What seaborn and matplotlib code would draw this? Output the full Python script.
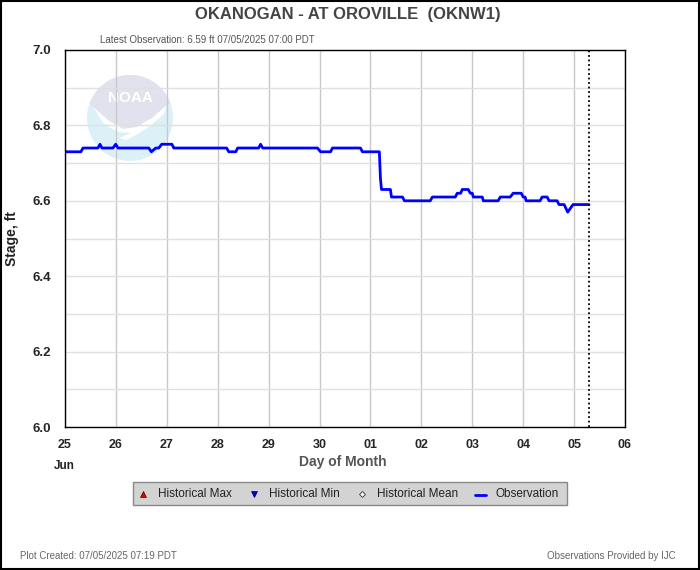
import numpy as np
import pandas as pd
import matplotlib
matplotlib.use("Agg")
import matplotlib.pyplot as plt
import matplotlib.dates as mdates
import matplotlib.transforms as mtransforms
from matplotlib.patches import Circle, Polygon, Rectangle
from matplotlib.lines import Line2D
import seaborn as sns

# ---- data (hours after 2025-06-25 00:00 PDT, stage in ft) ----
obs_hours = [0, 7.5, 8.5, 15.5, 16.5, 17.4, 22.6, 23.9, 25, 39.5, 40.7, 42.8, 44.2, 45.6,
             50.4, 51.3, 76.2, 77.2, 80.5, 81.4, 91.3, 92.2, 93.2, 119, 120.5, 125.2,
             126.1, 139.3, 140.2, 148.2, 148.7, 149.2, 153.4, 153.9, 159.1, 160.0,
             172.2, 173.2, 184.0, 184.9, 186.5, 187.3, 190.1, 191.1, 192.0, 192.5,
             196.7, 197.2, 204.2, 205.2, 209.9, 211.3, 215.1, 216.0, 216.9, 217.4,
             224.0, 224.9, 227.3, 228.2, 232.0, 232.9, 235.3, 237.0, 239.5, 247.0]
obs_stage = [6.73, 6.73, 6.74, 6.74, 6.75, 6.74, 6.74, 6.75, 6.74, 6.74, 6.73, 6.74, 6.74, 6.75,
             6.75, 6.74, 6.74, 6.73, 6.73, 6.74, 6.74, 6.75, 6.74, 6.74, 6.73, 6.73,
             6.74, 6.74, 6.73, 6.73, 6.66, 6.63, 6.63, 6.61, 6.61, 6.60,
             6.60, 6.61, 6.61, 6.62, 6.62, 6.63, 6.63, 6.62, 6.62, 6.61,
             6.61, 6.60, 6.60, 6.61, 6.61, 6.62, 6.62, 6.61, 6.61, 6.60,
             6.60, 6.61, 6.61, 6.60, 6.60, 6.59, 6.59, 6.57, 6.59, 6.59]
day_labels = ["25", "26", "27", "28", "29", "30", "01", "02", "03", "04", "05", "06"]
y_ticks = [6.0, 6.2, 6.4, 6.6, 6.8, 7.0]
legend_labels = ["Historical Max", "Historical Min", "Historical Mean", "Observation"]

start = pd.Timestamp("2025-06-25 00:00")
latest = pd.Timestamp("2025-07-05 07:00")
df = pd.DataFrame({"time": start + pd.to_timedelta(obs_hours, unit="h"), "stage": obs_stage})

sns.set_style("white")
plt.rcParams["font.family"] = ["Liberation Sans", "DejaVu Sans"]

W, H = 700, 570
fig = plt.figure(figsize=(W/100, H/100), dpi=100)
ax = fig.add_axes([65/W, 1-427/H, 560/W, 377/H])
# pixel transform: x from left, y from top
pix = mtransforms.Affine2D().scale(1/W, -1/H).translate(0, 1) + fig.transFigure

# faint NOAA watermark (below grid)
cx, cy, r = 130, 118, 43
ax.add_patch(Circle((cx, cy), r, transform=pix, facecolor="#dcf0f8", edgecolor="none",
                    zorder=0.1, clip_on=False))
ang = np.linspace(np.radians(200), np.radians(340), 40)
arc = [(cx + r*np.cos(a), cy + r*np.sin(a)) for a in ang]
lav = arc + [(166, 106), (152, 118), (137, 127), (123, 129), (109, 121), (93, 107)]
ax.add_patch(Polygon(lav, closed=True, transform=pix, facecolor="#e2e2ef", edgecolor="none",
                     zorder=0.15, clip_on=False))
bird = [(93, 107), (109, 121), (123, 129), (137, 127), (152, 118), (166, 106),
        (164, 114), (150, 126), (138, 134), (126, 140), (119, 138), (131, 133),
        (118, 132), (104, 124)]
ax.add_patch(Polygon(bird, closed=True, transform=pix, facecolor="white", edgecolor="none",
                     zorder=0.16, clip_on=False))
ax.text(130, 98, "NOAA", transform=pix, ha="center", va="center", fontsize=11,
        fontweight="bold", color="white", zorder=0.2)

sns.lineplot(data=df, x="time", y="stage", ax=ax, color="#0000ff", linewidth=2, zorder=3)
ax.axvline(latest, color="black", linestyle=(0, (1, 1.5)), linewidth=1.3, zorder=4)

ax.set_xlim(start, start + pd.Timedelta(days=11))
ax.set_ylim(6.0, 7.0)
ax.set_yticks(y_ticks)
ax.set_yticklabels([f"{v:.1f}" for v in y_ticks], fontweight="bold", fontsize=9.5)
ax.set_yticks(np.arange(6.1, 7.0, 0.2), minor=True)
xt = [start + pd.Timedelta(days=i) for i in range(len(day_labels))]
ax.set_xticks(xt)
ax.set_xticklabels(day_labels, fontweight="bold", fontsize=9)
ax.tick_params(axis="both", which="both", length=0)
ax.tick_params(axis="x", pad=9)
ax.tick_params(axis="y", pad=10)
ax.grid(axis="x", which="major", color="#c8c8c8", linewidth=1)
ax.grid(axis="y", which="both", color="#e0e0e0", linewidth=1)
ax.set_axisbelow(True)
ax.patch.set_alpha(0)
for s in ax.spines.values():
    s.set_color("black")
    s.set_linewidth(1)
    s.set_zorder(5)
ax.set_xlabel("")
ax.set_ylabel("")

fig.text(348/W, 1-14/H, "OKANOGAN - AT OROVILLE  (OKNW1)", ha="center", va="center",
         fontsize=12, fontweight="bold", color="#444444")
fig.text(100/W, 1-40/H, "Latest Observation: 6.59 ft 07/05/2025 07:00 PDT", ha="left",
         va="center", fontsize=7, color="#555555")
fig.text(12/W, 1-239/H, "Stage, ft", rotation=90, ha="center", va="center",
         fontsize=10, fontweight="bold", color="#222222")
fig.text(343/W, 1-462/H, "Day of Month", ha="center", va="center",
         fontsize=10, fontweight="bold", color="#555555")
fig.text(64/W, 1-466/H, "Jun", ha="center", va="center", fontsize=8.5,
         fontweight="bold", color="#222222")
fig.text(20/W, 1-556/H, "Plot Created: 07/05/2025 07:19 PDT", ha="left", va="center",
         fontsize=7, color="#666666")
fig.text(676/W, 1-556/H, "Observations Provided by IJC", ha="right", va="center",
         fontsize=7, color="#666666")

# legend box
fig.patches.append(Rectangle((133, 505), 434, -23, transform=pix,
                             facecolor="#d3d3d3", edgecolor="#888888", linewidth=1))
ly = 494
fig.add_artist(Line2D([143], [ly], marker="^", color="#e00000", markersize=5,
                      markeredgecolor="#600000", markeredgewidth=0.5, transform=pix))
fig.add_artist(Line2D([254], [ly], marker="v", color="#0000cc", markersize=5,
                      markeredgecolor="#000060", markeredgewidth=0.5, transform=pix))
fig.add_artist(Line2D([362], [ly], marker="D", color="white", markersize=3,
                      markeredgecolor="#333333", markeredgewidth=0.6, transform=pix))
fig.add_artist(Line2D([475, 486], [ly + 1, ly + 1], color="#0000ff", linewidth=2,
                      transform=pix))
for xpos, lab in zip([158, 269, 377, 495], legend_labels):
    fig.text(xpos/W, 1-ly/H, lab, ha="left", va="center", fontsize=8.5, color="#222222")

# outer border
fig.patches.append(Rectangle((0.75, 0.75), W-1.5, H-1.5, transform=pix,
                             facecolor="none", edgecolor="black", linewidth=1.5))

fig.savefig("out.png", dpi=100)
